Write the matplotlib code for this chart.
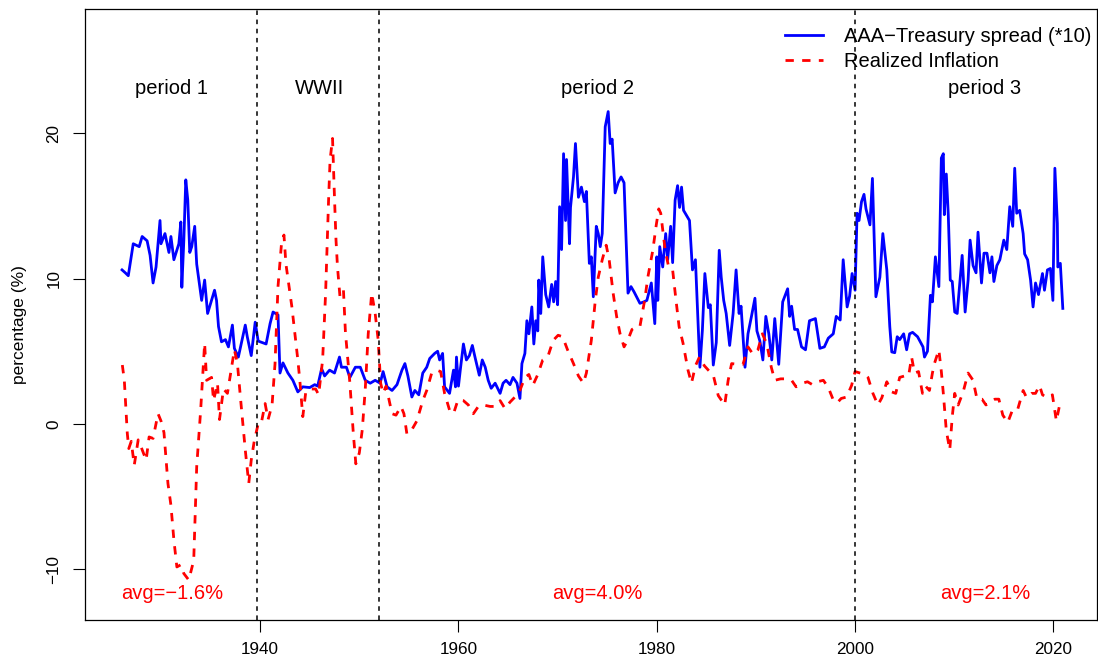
import matplotlib
matplotlib.use("Agg")
import matplotlib.pyplot as plt

plt.rcParams['font.family'] = ['Liberation Sans', 'DejaVu Sans']

# AAA - Treasury spread, scaled by 10
spread_year = [1926.07, 1926.4, 1926.7, 1927.2, 1927.8, 1928.1, 1928.6, 1928.9, 1929.2, 1929.5,
               1929.9, 1930.0, 1930.4, 1930.8, 1931.0, 1931.3, 1931.8, 1932.0, 1932.1, 1932.3,
               1932.5, 1932.7, 1932.9, 1933.1, 1933.4, 1933.6, 1934.1, 1934.4, 1934.7, 1935.4,
               1935.6, 1935.8, 1936.1, 1936.5, 1936.8, 1937.2, 1937.4, 1937.8, 1938.5, 1938.7,
               1939.1, 1939.5, 1939.8, 1940.6, 1941.0, 1941.3, 1941.8, 1942.0, 1942.3, 1942.8,
               1943.3, 1943.8, 1944.3, 1945.0, 1945.5, 1945.8, 1946.2, 1946.5, 1947.0, 1947.5,
               1948.0, 1948.2, 1948.7, 1949.05, 1949.6, 1950.1, 1950.6, 1951.1, 1951.6, 1952.1,
               1952.4, 1952.8, 1953.3, 1953.8, 1954.3, 1954.6, 1954.9, 1955.3, 1955.6, 1956.0,
               1956.4, 1956.8, 1957.1, 1957.6, 1957.9, 1958.1, 1958.4, 1958.6, 1959.1, 1959.5,
               1959.7, 1959.8, 1960.0, 1960.2, 1960.5, 1960.8, 1961.1, 1961.4, 1961.7, 1962.1,
               1962.4, 1962.7, 1963.0, 1963.3, 1963.7, 1964.2, 1964.5, 1964.8, 1965.2, 1965.5,
               1965.9, 1966.2, 1966.4, 1966.7, 1966.9, 1967.1, 1967.4, 1967.6, 1967.8, 1968.0,
               1968.1, 1968.3, 1968.5, 1968.8, 1969.1, 1969.4, 1969.6, 1969.8, 1970.0, 1970.2,
               1970.4, 1970.6, 1970.8, 1970.9, 1971.2, 1971.3, 1971.6, 1971.8, 1972.1, 1972.4,
               1972.7, 1972.9, 1973.2, 1973.4, 1973.6, 1973.9, 1974.1, 1974.3, 1974.5, 1974.8,
               1975.1, 1975.3, 1975.5, 1975.8, 1976.1, 1976.4, 1976.7, 1977.1, 1977.4, 1977.7,
               1978.3, 1978.7, 1979.0, 1979.45, 1979.8, 1980.0, 1980.1, 1980.3, 1980.6, 1980.9,
               1981.1, 1981.4, 1981.6, 1981.85, 1982.1, 1982.3, 1982.5, 1982.7, 1983.3, 1983.6,
               1983.9, 1984.2, 1984.35, 1984.6, 1984.85, 1985.2, 1985.4, 1985.7, 1986.0, 1986.3,
               1986.5, 1986.75, 1987.0, 1987.35, 1987.7, 1988.0, 1988.3, 1988.5, 1988.9, 1989.2,
               1989.55, 1989.9, 1990.1, 1990.4, 1990.7, 1991.0, 1991.3, 1991.6, 1991.9, 1992.3,
               1992.7, 1993.2, 1993.4, 1993.6, 1993.9, 1994.2, 1994.6, 1995.0, 1995.4, 1996.0,
               1996.45, 1996.9, 1997.3, 1997.8, 1998.1, 1998.5, 1998.8, 1999.2, 1999.45, 1999.7,
               2000.0, 2000.2, 2000.4, 2000.65, 2000.9, 2001.1, 2001.5, 2001.75, 2002.1, 2002.5,
               2002.8, 2003.2, 2003.5, 2003.7, 2004.0, 2004.25, 2004.5, 2004.9, 2005.2, 2005.5,
               2005.8, 2006.3, 2006.85, 2007.0, 2007.3, 2007.6, 2007.8, 2008.1, 2008.45, 2008.7,
               2008.9, 2009.0, 2009.2, 2009.4, 2009.6, 2009.8, 2010.05, 2010.3, 2010.5, 2010.8,
               2011.1, 2011.4, 2011.6, 2011.9, 2012.2, 2012.4, 2012.75, 2013.0, 2013.3, 2013.6,
               2013.8, 2014.0, 2014.3, 2014.6, 2015.0, 2015.3, 2015.6, 2015.9, 2016.1, 2016.3,
               2016.6, 2016.95, 2017.1, 2017.4, 2017.7, 2017.95, 2018.2, 2018.5, 2018.9, 2019.1,
               2019.4, 2019.7, 2019.95, 2020.15, 2020.4, 2020.45, 2020.7, 2020.95]
spread_val = [10.6, 10.4, 10.2, 12.4, 12.2, 12.9, 12.6, 11.6, 9.7, 10.8,
              14.0, 12.4, 13.1, 11.8, 12.9, 11.3, 12.4, 13.9, 9.4, 12.6,
              16.8, 15.4, 11.8, 12.2, 13.6, 11.0, 8.5, 9.9, 7.6, 9.2,
              8.5, 6.7, 5.65, 5.8, 5.3, 6.8, 5.2, 4.6, 6.8, 6.0,
              4.7, 7.0, 5.7, 5.5, 6.9, 7.7, 7.5, 3.5, 4.2, 3.5,
              3.0, 2.2, 2.55, 2.5, 2.7, 2.6, 3.8, 3.3, 3.7, 3.5,
              4.6, 3.9, 3.9, 3.2, 3.9, 3.9, 3.0, 2.8, 3.0, 2.8,
              3.6, 2.55, 2.3, 2.7, 3.7, 4.15, 3.3, 1.85, 2.3, 2.0,
              3.5, 3.9, 4.5, 4.85, 5.0, 4.4, 4.85, 2.55, 2.1, 3.7,
              2.55, 4.6, 2.6, 3.8, 5.5, 4.4, 4.7, 5.4, 4.5, 3.35,
              4.4, 3.9, 3.0, 2.45, 2.8, 2.1, 2.8, 3.0, 2.7, 3.2,
              2.8, 1.75, 4.15, 4.85, 7.1, 6.2, 8.05, 5.5, 7.1, 6.4,
              9.9, 7.6, 11.5, 8.9, 8.05, 9.6, 8.4, 9.8, 8.2, 14.95,
              12.0, 18.6, 14.0, 18.2, 12.4, 14.9, 17.0, 19.3, 15.6, 16.3,
              15.3, 16.0, 11.05, 11.5, 8.75, 13.6, 13.1, 12.2, 13.1, 20.45,
              21.5, 19.3, 19.6, 15.9, 16.6, 17.0, 16.6, 9.0, 9.45, 9.1,
              8.3, 8.4, 8.5, 9.7, 6.9, 11.5, 8.5, 12.2, 10.8, 13.1,
              11.3, 13.6, 11.1, 15.4, 16.4, 14.9, 16.3, 14.7, 14.0, 10.6,
              11.3, 6.45, 3.9, 6.45, 10.35, 8.0, 8.2, 4.05, 5.6, 11.95,
              10.1, 8.5, 7.6, 5.4, 7.6, 10.6, 7.6, 8.1, 3.9, 6.2,
              7.4, 8.65, 6.4, 5.7, 4.4, 7.4, 6.2, 4.4, 7.25, 4.1,
              8.4, 9.3, 7.4, 8.1, 6.5, 6.5, 5.3, 5.1, 7.1, 7.25,
              5.2, 5.3, 5.9, 6.2, 7.4, 7.15, 11.3, 8.05, 8.8, 10.35,
              9.2, 14.5, 14.0, 15.3, 15.8, 14.8, 13.7, 16.9, 8.75, 10.1,
              13.1, 10.6, 6.7, 4.95, 4.9, 6.0, 5.8, 6.2, 5.1, 6.2,
              6.3, 6.0, 5.3, 4.6, 5.0, 8.85, 8.4, 11.5, 9.45, 18.3,
              18.6, 14.4, 17.2, 14.4, 9.9, 9.8, 7.7, 7.6, 9.2, 11.6,
              7.7, 9.9, 12.65, 10.9, 10.4, 13.2, 9.7, 11.75, 11.75, 10.4,
              11.5, 9.8, 10.9, 11.3, 12.65, 12.0, 14.95, 13.6, 17.6, 14.5,
              14.7, 13.1, 11.7, 11.3, 9.9, 8.05, 9.7, 8.9, 10.35, 9.2,
              10.6, 10.7, 8.5, 17.6, 13.8, 10.8, 11.05, 7.95]

# realized inflation
infl_year = [1926.1, 1926.3, 1926.6, 1926.75, 1927.0, 1927.3, 1927.7, 1928.0, 1928.5, 1928.8,
             1929.2, 1929.7, 1930.0, 1930.3, 1930.7, 1931.0, 1931.3, 1931.6, 1932.0, 1932.3,
             1932.8, 1933.3, 1933.6, 1934.0, 1934.4, 1934.6, 1935.1, 1935.3, 1935.7, 1935.9,
             1936.3, 1936.7, 1937.4, 1937.7, 1938.1, 1938.5, 1938.85, 1939.1, 1939.4, 1939.8,
             1940.1, 1940.5, 1940.8, 1941.2, 1941.5, 1941.8, 1942.15, 1942.4, 1942.6, 1942.9,
             1943.2, 1943.5, 1943.8, 1944.0, 1944.3, 1944.6, 1945.0, 1945.6, 1945.9, 1946.3,
             1946.6, 1946.9, 1947.05, 1947.3, 1947.5, 1947.65, 1947.8, 1948.05, 1948.4, 1948.6,
             1949.05, 1949.4, 1949.65, 1950.0, 1950.3, 1950.6, 1950.9, 1951.25, 1951.6, 1951.9,
             1952.15, 1952.4, 1952.7, 1953.3, 1953.7, 1954.2, 1954.5, 1954.8, 1955.3, 1955.8,
             1956.4, 1956.8, 1957.3, 1957.8, 1958.2, 1958.6, 1959.1, 1959.5, 1959.95, 1960.5,
             1961.0, 1961.5, 1962.0, 1962.5, 1963.2, 1963.7, 1964.2, 1964.7, 1965.2, 1965.7,
             1966.2, 1966.7, 1967.1, 1967.5, 1968.0, 1968.5, 1969.0, 1969.55, 1970.05, 1970.5,
             1971.0, 1971.6, 1972.1, 1972.6, 1972.9, 1973.4, 1973.8, 1974.1, 1974.5, 1974.9,
             1975.2, 1975.6, 1975.95, 1976.3, 1976.7, 1977.1, 1977.5, 1978.0, 1978.3, 1978.8,
             1979.1, 1979.6, 1979.95, 1980.2, 1980.4, 1980.85, 1981.2, 1981.6, 1981.9, 1982.25,
             1982.65, 1983.15, 1983.5, 1983.9, 1984.3, 1984.8, 1985.2, 1985.7, 1986.2, 1986.85,
             1987.2, 1987.55, 1988.1, 1988.7, 1989.2, 1989.7, 1990.2, 1990.65, 1991.1, 1991.55,
             1991.9, 1992.5, 1993.1, 1993.6, 1994.05, 1994.7, 1995.2, 1995.7, 1996.2, 1996.8,
             1997.3, 1997.8, 1998.2, 1998.6, 1999.15, 1999.65, 2000.0, 2000.5, 2001.0, 2001.3,
             2001.8, 2002.3, 2002.7, 2003.2, 2003.7, 2004.1, 2004.5, 2005.0, 2005.4, 2005.7,
             2006.0, 2006.4, 2006.8, 2007.1, 2007.5, 2007.8, 2008.0, 2008.45, 2008.7, 2008.9,
             2009.05, 2009.2, 2009.55, 2009.8, 2010.05, 2010.4, 2010.9, 2011.4, 2011.9, 2012.3,
             2012.8, 2013.2, 2013.6, 2014.1, 2014.5, 2014.9, 2015.4, 2015.9, 2016.4, 2016.95,
             2017.3, 2017.8, 2018.2, 2018.6, 2018.9, 2019.4, 2019.9, 2020.3, 2020.6, 2020.9]
infl_val = [4.05, 3.0, -0.65, -1.7, -1.2, -2.85, -1.1, -1.6, -2.5, -0.9,
            -1.0, 0.7, 0.2, -0.6, -4.1, -5.6, -8.0, -9.85, -9.7, -10.3,
            -10.75, -9.4, -2.95, 0.95, 5.55, 3.0, 3.2, 1.6, 2.8, 0.3,
            2.4, 2.1, 5.1, 4.2, 1.15, -1.8, -4.1, -2.5, -1.2, 0.0,
            0.0, 1.4, 0.3, 1.3, 4.15, 9.45, 12.4, 13.0, 11.0, 9.5,
            8.05, 6.2, 4.4, 3.0, 0.5, 2.2, 2.4, 2.4, 2.0, 4.4,
            9.0, 15.4, 18.15, 19.65, 15.5, 12.65, 10.8, 8.75, 9.2, 6.3,
            2.8, -0.7, -2.75, -2.0, -0.4, 2.4, 6.2, 9.0, 7.6, 5.8,
            2.8, 2.1, 2.6, 0.7, 0.6, 1.2, 0.7, -0.7, -0.4, 0.2,
            1.6, 2.3, 3.5, 3.7, 3.6, 2.1, 0.95, 0.7, 1.65, 1.6,
            1.3, 0.7, 1.2, 1.3, 1.2, 1.2, 1.6, 1.05, 1.5, 1.85,
            2.3, 3.2, 3.4, 2.65, 3.4, 4.4, 4.6, 5.75, 6.1, 6.0,
            5.1, 4.15, 3.3, 2.8, 3.5, 5.75, 8.5, 10.1, 11.3, 12.3,
            11.3, 9.0, 7.4, 6.2, 5.3, 5.8, 6.5, 6.7, 6.7, 8.6,
            10.1, 11.95, 13.7, 14.8, 14.5, 11.95, 10.8, 10.6, 8.75, 6.7,
            5.55, 3.7, 2.8, 4.0, 4.6, 4.0, 3.7, 3.35, 1.95, 1.3,
            3.0, 4.15, 4.1, 4.1, 5.3, 4.8, 5.1, 6.2, 5.5, 3.9,
            3.0, 3.1, 3.1, 3.0, 2.55, 2.8, 2.9, 2.7, 2.9, 3.0,
            2.5, 1.65, 1.45, 1.75, 1.85, 2.65, 3.6, 3.5, 3.4, 3.2,
            2.1, 1.3, 1.8, 2.9, 2.2, 2.1, 3.2, 3.3, 3.3, 4.6,
            3.5, 3.6, 2.1, 2.6, 2.3, 3.5, 4.15, 5.1, 3.6, 2.1,
            0.8, -0.45, -1.8, 0.5, 2.1, 1.3, 2.2, 3.5, 3.0, 1.7,
            1.7, 1.3, 1.5, 1.7, 1.7, 0.6, 0.1, 1.0, 1.0, 2.3,
            1.8, 2.1, 2.1, 2.65, 2.0, 1.8, 2.0, 0.2, 1.2, 1.4]

# period boundaries and annotations
breaks = [1939.67, 1952.0, 2000.0]
period_names = ['period 1', 'WWII', 'period 2', 'period 3']
period_x = [1931.1, 1946.0, 1974.0, 2013.1]
avg_labels = ['avg=\u22121.6%', 'avg=4.0%', 'avg=2.1%']
avg_x = [1931.1, 1974.0, 2013.1]

fig = plt.figure(figsize=(10.98, 6.63), dpi=100)
ax = fig.add_axes([0.0771, 0.0649, 0.9220, 0.9215])

ax.plot(spread_year, spread_val, color='#0000FF', lw=2.0,
        label='AAA\u2212Treasury spread (*10)')
ax.plot(infl_year, infl_val, color='#FF0000', lw=2.0, linestyle=(0, (3, 3)),
        label='Realized Inflation')

for b in breaks:
    ax.axvline(b, color='black', lw=1.1, linestyle=(0, (3, 3)))

fs = 12.3      # axis text
fs_big = 14.5  # annotations and legend
for name, x in zip(period_names, period_x):
    ax.text(x, 23.1, name, ha='center', va='center', fontsize=fs_big)
for lab, x in zip(avg_labels, avg_x):
    ax.text(x, -11.66, lab, ha='center', va='center', fontsize=fs_big, color='#FF0000')

ax.set_xlim(1922.3, 2024.4)
ax.set_ylim(-13.5, 28.56)
ax.set_xticks([1940, 1960, 1980, 2000, 2020])
ax.set_yticks([-10, 0, 10, 20])
ax.tick_params(axis='both', direction='out', length=8.6, width=0.8, labelsize=fs)
ax.tick_params(axis='x', pad=7)
ax.tick_params(axis='y', pad=8)
for lab in ax.get_yticklabels():
    lab.set_rotation(90)
    lab.set_va('center')
for sp in ax.spines.values():
    sp.set_linewidth(0.9)

ax.set_ylabel('percentage (%)', fontsize=12.5)
ax.yaxis.set_label_coords(-0.057, 0.483)

ax.legend(loc='upper right', bbox_to_anchor=(1.0, 0.98), frameon=False,
          fontsize=fs_big, handlelength=1.9, handletextpad=1.0,
          borderpad=0.2, borderaxespad=0.1, labelspacing=0.3)

fig.savefig('out.png', dpi=100)
